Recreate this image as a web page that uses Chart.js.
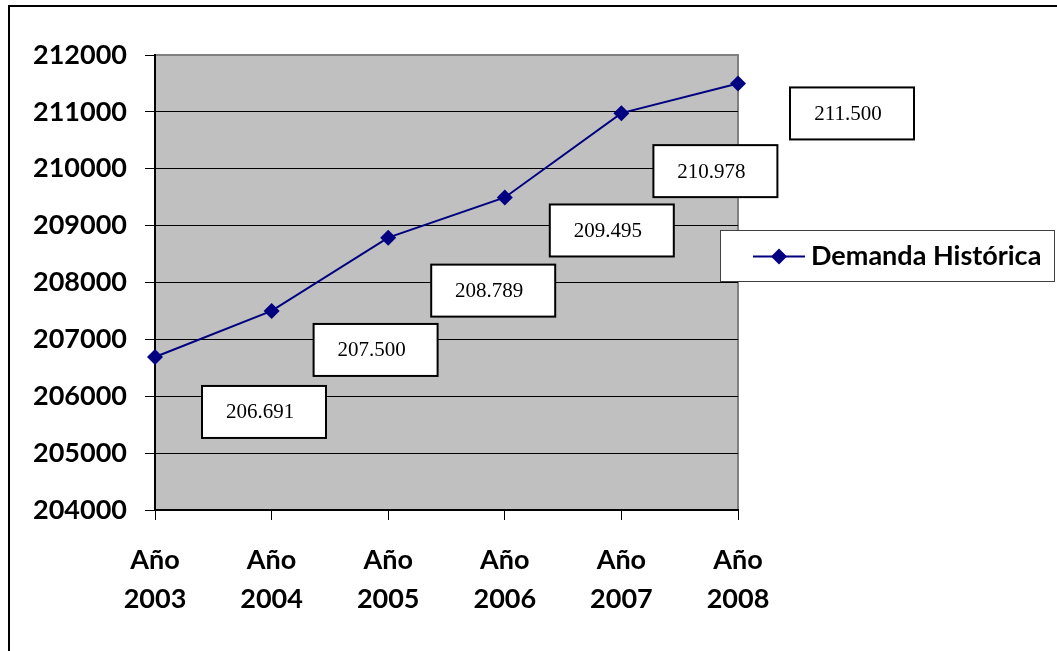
<!DOCTYPE html>
<html lang="es">
<head>
<meta charset="UTF-8">
<title>Demanda Histórica</title>
<script src="https://cdn.jsdelivr.net/npm/chart.js"></script>
<style>
    html, body { margin: 0; padding: 0; background: #fff; }
    #wrap { width: 1057px; height: 651px; position: relative; }
</style>
</head>
<body>
<div id="wrap"><canvas id="myChart" width="1057" height="651"></canvas></div>
<script>
    const years = ['2003', '2004', '2005', '2006', '2007', '2008'];
    const demanda = [206691, 207500, 208789, 209495, 210978, 211500];
    const valueLabels = ['206.691', '207.500', '208.789', '209.495', '210.978', '211.500'];
    const yTicks = [204000, 205000, 206000, 207000, 208000, 209000, 210000, 211000, 212000];
    const seriesName = 'Demanda Histórica';

    // where each label box sits relative to its point (px)
    const labelOffsets = [[109, 55], [104, 39], [105, 53], [107, 33], [94, 58], [114, 30]];

    const navy = '#000080';
    const boldFont = 'Lato, "DejaVu Sans", sans-serif';

    const plotBg = {
        id: 'plotBg',
        beforeDraw(chart) {
            const { ctx, chartArea: a } = chart;
            ctx.save();
            // outer frame
            ctx.strokeStyle = '#000';
            ctx.lineWidth = 2;
            ctx.strokeRect(9, 6, 1100, 700);
            ctx.fillStyle = '#c0c0c0';
            ctx.fillRect(a.left, a.top, a.right - a.left, a.bottom - a.top);
            ctx.strokeStyle = '#808080';
            ctx.lineWidth = 2;
            ctx.beginPath();
            ctx.moveTo(a.left, a.top);
            ctx.lineTo(a.right, a.top);
            ctx.lineTo(a.right, a.bottom);
            ctx.stroke();
            ctx.restore();
        }
    };

    const boxLabels = {
        id: 'boxLabels',
        afterDraw(chart) {
            const { ctx } = chart;
            const pts = chart.getDatasetMeta(0).data;
            ctx.save();
            ctx.font = '21px "Liberation Serif", "Times New Roman", serif';
            ctx.textAlign = 'center';
            ctx.textBaseline = 'middle';
            pts.forEach((p, i) => {
                const cx = p.x + labelOffsets[i][0];
                const cy = p.y + labelOffsets[i][1];
                const w = 124, h = 52;
                ctx.fillStyle = '#fff';
                ctx.fillRect(cx - w / 2, cy - h / 2, w, h);
                ctx.strokeStyle = '#000';
                ctx.lineWidth = 2;
                ctx.strokeRect(cx - w / 2, cy - h / 2, w, h);
                ctx.fillStyle = '#000';
                ctx.fillText(valueLabels[i], cx - 4, cy + 1);
            });

            // legend
            const lx = 720, ly = 230, lw = 334, lh = 51;
            ctx.fillStyle = '#fff';
            ctx.fillRect(lx, ly, lw, lh);
            ctx.strokeStyle = '#404040';
            ctx.lineWidth = 1;
            ctx.strokeRect(lx + 0.5, ly + 0.5, lw, lh);
            const my = ly + lh / 2 + 1;
            ctx.strokeStyle = navy;
            ctx.lineWidth = 2;
            ctx.beginPath();
            ctx.moveTo(753, my);
            ctx.lineTo(805, my);
            ctx.stroke();
            ctx.fillStyle = navy;
            ctx.beginPath();
            ctx.moveTo(779, my - 8);
            ctx.lineTo(787, my);
            ctx.lineTo(779, my + 8);
            ctx.lineTo(771, my);
            ctx.closePath();
            ctx.fill();
            ctx.fillStyle = '#000';
            ctx.font = 'bold 27px ' + boldFont;
            ctx.textAlign = 'left';
            ctx.fillText(seriesName, 811, my);
            ctx.restore();
        }
    };

    new Chart(document.getElementById('myChart'), {
        type: 'line',
        data: {
            labels: years.map(y => ['Año', y]),
            datasets: [{
                label: seriesName,
                data: demanda,
                borderColor: navy,
                backgroundColor: navy,
                borderWidth: 2,
                pointStyle: 'rectRot',
                pointRadius: 8,
                pointBorderWidth: 0,
                tension: 0
            }]
        },
        options: {
            responsive: false,
            animation: false,
            layout: { padding: { top: 55, right: 319, left: 0, bottom: 0 } },
            plugins: { legend: { display: false }, tooltip: { enabled: false } },
            scales: {
                x: {
                    offset: false,
                    grid: {
                        drawOnChartArea: false,
                        drawTicks: true,
                        tickLength: 10,
                        tickColor: '#000'
                    },
                    border: { color: '#000', width: 2 },
                    ticks: {
                        color: '#000',
                        font: { family: boldFont, size: 27, weight: 'bold', lineHeight: 1.45 },
                        padding: 21,
                        maxRotation: 0
                    },
                    afterFit(scale) { scale.height = 141; }
                },
                y: {
                    min: 204000,
                    max: 212000,
                    afterBuildTicks(scale) { scale.ticks = yTicks.map(v => ({ value: v })); },
                    grid: {
                        color: c => (c.tick && c.tick.value === 212000) ? '#808080' : '#000',
                        lineWidth: 1,
                        tickLength: 10,
                        tickColor: '#000'
                    },
                    border: { color: '#000', width: 2 },
                    ticks: {
                        color: '#000',
                        font: { family: boldFont, size: 27, weight: 'bold' },
                        padding: 18,
                        callback: v => String(v)
                    },
                    afterFit(scale) { scale.width = 155; }
                }
            }
        },
        plugins: [plotBg, boxLabels]
    });
</script>
</body>
</html>
